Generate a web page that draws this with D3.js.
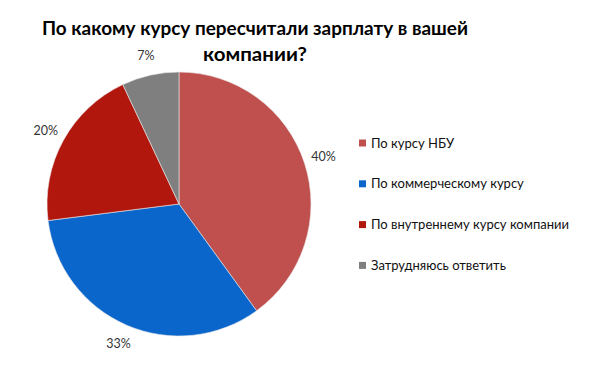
<!DOCTYPE html>
<html>
<head>
<meta charset="utf-8">
<script src="https://cdn.jsdelivr.net/npm/d3@7"></script>
<style>
  body { margin: 0; background: #fff; }
  text { font-family: Lato, "Open Sans", sans-serif; }
</style>
</head>
<body>
<div id="chart"></div>
<script>
// chart data
var categories = [
  "По курсу НБУ",
  "По коммерческому курсу",
  "По внутреннему курсу компании",
  "Затрудняюсь ответить"
];
var values = [40, 33, 20, 7];
var colors = ["#C0504D", "#0B66CC", "#B2170E", "#7F7F7F"];
var titleLines = ["По какому курсу пересчитали зарплату в вашей", "компании?"];
var titleWidths = [426, 104];

var svgWidth = 600;
var svgHeight = 387;

var svg = d3.select("#chart")
  .append("svg")
  .attr("width", svgWidth)
  .attr("height", svgHeight);

// title, squeezed to the widths seen in the reference
svg.selectAll(".title")
  .data(titleLines)
  .enter()
  .append("text")
  .attr("class", "title")
  .attr("x", 255)
  .attr("y", (d, i) => 35 + i * 26)
  .attr("text-anchor", "middle")
  .attr("font-size", "19px")
  .attr("font-weight", "bold")
  .attr("fill", "#000")
  .attr("textLength", (d, i) => titleWidths[i])
  .attr("lengthAdjust", "spacingAndGlyphs")
  .text(d => d);

var cx = 179, cy = 204, radius = 132;

var pie = d3.pie().sort(null).value(d => d);
var arcs = pie(values);
var arc = d3.arc().innerRadius(0).outerRadius(radius);
var labelArc = d3.arc().innerRadius(radius + 20).outerRadius(radius + 20);

var pieGroup = svg.append("g")
  .attr("transform", `translate(${cx}, ${cy})`);

pieGroup.selectAll("path")
  .data(arcs)
  .enter()
  .append("path")
  .attr("d", arc)
  .attr("fill", (d, i) => colors[i])
  .attr("stroke", "#e8e8e8")
  .attr("stroke-width", 0.6);

var total = d3.sum(values);
pieGroup.selectAll(".lbl")
  .data(arcs)
  .enter()
  .append("text")
  .attr("class", "lbl")
  .attr("transform", d => `translate(${labelArc.centroid(d)})`)
  .attr("text-anchor", "middle")
  .attr("dy", "0.35em")
  .attr("font-size", "12.5px")
  .attr("fill", "#333")
  .text(d => Math.round(d.data / total * 100) + "%");

// legend
var legend = svg.append("g")
  .attr("transform", "translate(359, 143)");

var rows = legend.selectAll("g")
  .data(categories)
  .enter()
  .append("g")
  .attr("transform", (d, i) => `translate(0, ${i * 40.8})`);

rows.append("rect")
  .attr("x", 0)
  .attr("y", -3.5)
  .attr("width", 7)
  .attr("height", 7)
  .attr("fill", (d, i) => colors[i]);

rows.append("text")
  .attr("x", 12)
  .attr("dy", "0.35em")
  .attr("font-size", "13px")
  .attr("fill", "#111")
  .text(d => d);
</script>
</body>
</html>
